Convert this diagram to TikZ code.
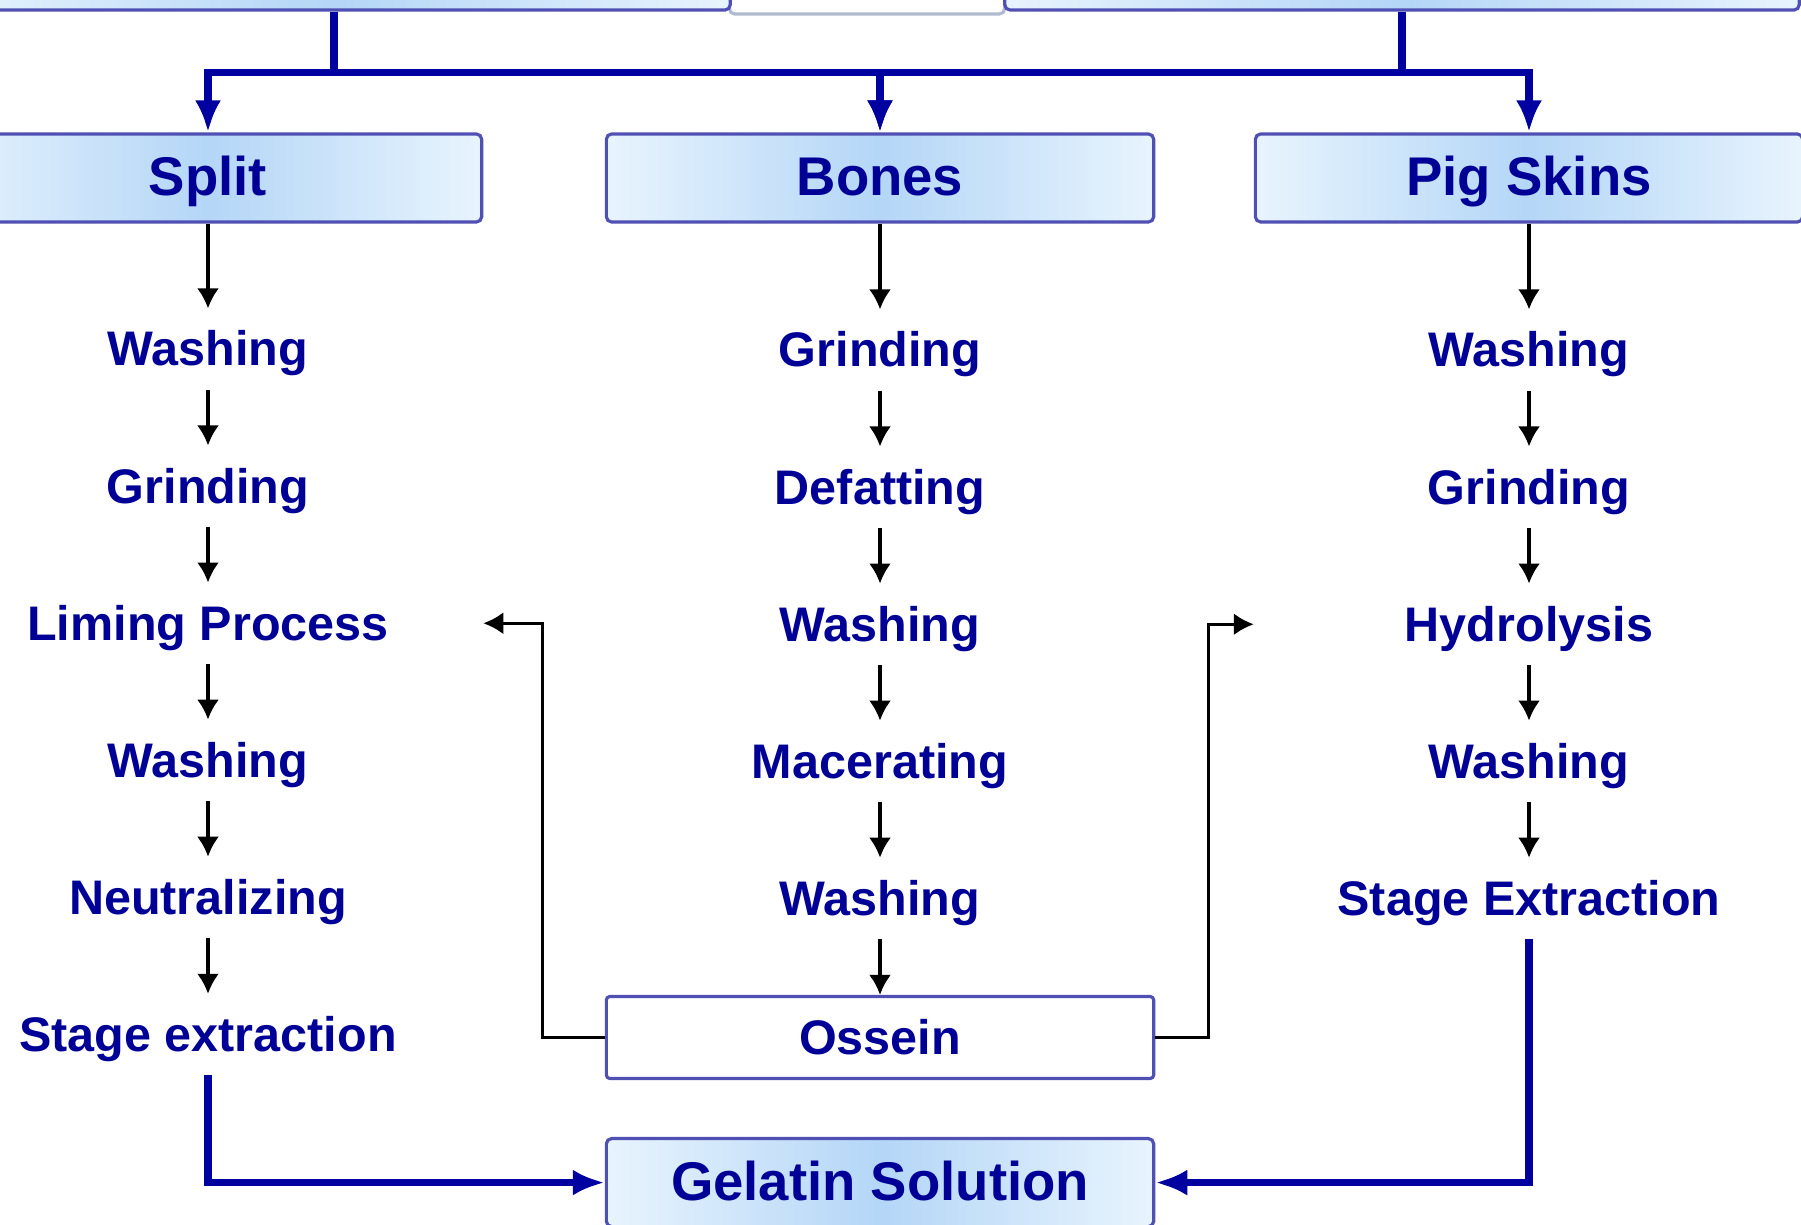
\documentclass[tikz,border=0pt]{standalone}
\usepackage{fontspec}
\setmainfont{Liberation Sans}
\usepackage{tikz}
\usetikzlibrary{arrows.meta, positioning}

\definecolor{inkblue}{RGB}{0,0,150}
\definecolor{lineblue}{RGB}{0,0,160}
\definecolor{frameblue}{RGB}{80,80,180}
\definecolor{paleblue}{RGB}{232,244,253}
\definecolor{midblue}{RGB}{180,214,247}
\definecolor{palegray}{RGB}{176,186,208}

\begin{document}
\begin{tikzpicture}[x=0.01cm, y=-0.01cm, node distance=1.37cm]
    \tikzstyle{source} = [rectangle, rounded corners=1.5pt, minimum width=5.47cm, minimum height=0.88cm, text centered, text height=12pt, text depth=2pt, draw=frameblue, line width=0.9pt, left color=paleblue, right color=paleblue, middle color=midblue, text=inkblue, font=\fontsize{15.5}{18}\selectfont\bfseries]
    \tikzstyle{stage} = [minimum height=0.8cm, inner sep=0pt, text height=11.3pt, text depth=1.7pt, text=inkblue, font=\fontsize{13.8}{16}\selectfont\bfseries]
    \tikzstyle{pivot} = [rectangle, rounded corners=1pt, minimum width=5.47cm, minimum height=0.82cm, text centered, text height=11pt, text depth=1.5pt, draw=frameblue, line width=0.9pt, fill=white, text=inkblue, font=\fontsize{13.8}{16}\selectfont\bfseries]
    \tikzstyle{arrow} = [line width=0.9pt, -{Latex[length=2mm, width=2.2mm]}]
    \tikzstyle{flow} = [draw=lineblue, line width=2.2pt, -{Latex[length=3.2mm, width=2.6mm]}]

    \useasboundingbox (0,0) rectangle (1801,1225);

    \node (topgap) [rectangle, rounded corners=1.5pt, minimum width=2.75cm, minimum height=1.08cm, draw=palegray, line width=0.9pt, fill=white] at (867,-40) {};
    \node (topleft) [source, minimum width=7.92cm, minimum height=1cm] at (334,-40) {};
    \node (topright) [source, minimum width=7.94cm, minimum height=1cm] at (1402,-40) {};

    \node (split) [source] at (208,178) {Split};
    \node (bones) [source] at (880,178) {Bones};
    \node (pigskins) [source] at (1529,178) {Pig Skins};

    \node (swash) [stage, below of=split, node distance=1.71cm] {Washing};
    \node (sgrind) [stage, below of=swash] {Grinding};
    \node (slime) [stage, below of=sgrind] {Liming Process};
    \node (swash2) [stage, below of=slime] {Washing};
    \node (sneut) [stage, below of=swash2] {Neutralizing};
    \node (sextr) [stage, below of=sneut] {Stage extraction};

    \node (bgrind) [stage, below of=bones, node distance=1.72cm] {Grinding};
    \node (bdefat) [stage, below of=bgrind] {Defatting};
    \node (bwash) [stage, below of=bdefat] {Washing};
    \node (bmacer) [stage, below of=bwash] {Macerating};
    \node (bwash2) [stage, below of=bmacer] {Washing};
    \node (ossein) [pivot, below of=bwash2, node distance=1.39cm] {Ossein};

    \node (pwash) [stage, below of=pigskins, node distance=1.72cm] {Washing};
    \node (pgrind) [stage, below of=pwash] {Grinding};
    \node (phydro) [stage, below of=pgrind] {Hydrolysis};
    \node (pwash2) [stage, below of=phydro] {Washing};
    \node (pextr) [stage, below of=pwash2] {Stage Extraction};

    \node (gelatin) [source, below of=ossein, node distance=1.45cm] {Gelatin Solution};

    \draw [flow] (topleft.south) -- ++(0,61) -| (split.north);
    \draw [flow] (topleft.south) -- ++(0,61) -| (bones.north);
    \draw [flow] (topright.south) -- ++(0,61) -| (bones.north);
    \draw [flow] (topright.south) -- ++(0,61) -| (pigskins.north);

    \draw [arrow] (split) -- (swash);
    \draw [arrow] (swash) -- (sgrind);
    \draw [arrow] (sgrind) -- (slime);
    \draw [arrow] (slime) -- (swash2);
    \draw [arrow] (swash2) -- (sneut);
    \draw [arrow] (sneut) -- (sextr);

    \draw [arrow] (bones) -- (bgrind);
    \draw [arrow] (bgrind) -- (bdefat);
    \draw [arrow] (bdefat) -- (bwash);
    \draw [arrow] (bwash) -- (bmacer);
    \draw [arrow] (bmacer) -- (bwash2);
    \draw [arrow] (bwash2) -- (ossein);

    \draw [arrow] (pigskins) -- (pwash);
    \draw [arrow] (pwash) -- (pgrind);
    \draw [arrow] (pgrind) -- (phydro);
    \draw [arrow] (phydro) -- (pwash2);
    \draw [arrow] (pwash2) -- (pextr);

    \draw [arrow] (ossein.west) -- ++(-62,0) |- (split.east |- slime.center);
    \draw [arrow] (ossein.east) -- ++(53,0) |- (pigskins.west |- phydro.center);

    \draw [flow] (sextr.south) |- (gelatin.west);
    \draw [flow] (pextr.south) |- (gelatin.east);
\end{tikzpicture}
\end{document}
